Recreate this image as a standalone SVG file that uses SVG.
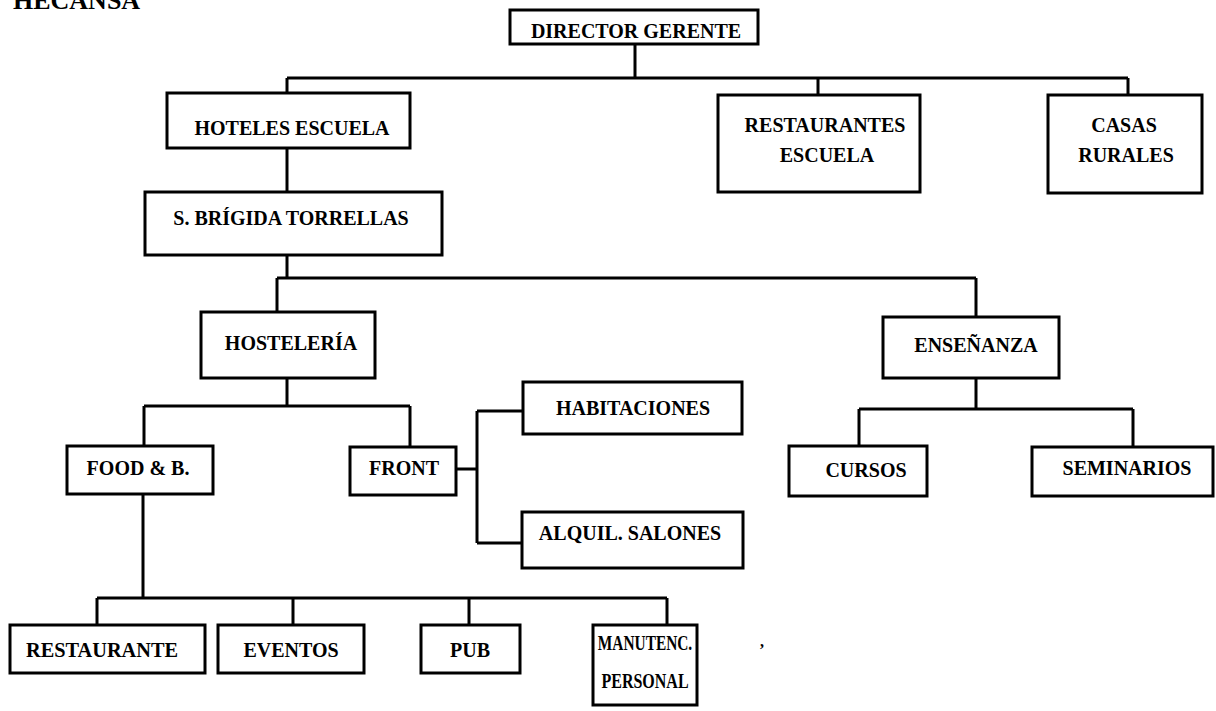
<svg xmlns="http://www.w3.org/2000/svg" width="1216" height="711" viewBox="0 0 1216 711">
<style>
.box{fill:#fff;stroke:#000;stroke-width:3}
.t{font-family:"Liberation Serif","Times New Roman",serif;font-weight:bold;font-size:20px;fill:#000;text-anchor:middle}
.c{fill:none;stroke:#000;stroke-width:3}
</style>
<rect width="1216" height="711" fill="#fff"/>
<text x="13" y="9" style="font-family:'Liberation Serif','Times New Roman',serif;font-weight:bold;font-size:26px">HECANSA</text>
<g id="connectors" class="c">
<path d="M635 44V78M287 78H1128M287 78V93M818 78V95M1128 78V95"/>
<path d="M287 148V192"/>
<path d="M287 255V278M277 278H976M277 278V312M976 278V317"/>
<path d="M287 378V406M144 406H410M144 406V446M410 406V447"/>
<path d="M456 469H477M477 411V543M477 411H523M477 543H522"/>
<path d="M976 378V409M859 409H1133M859 409V446M1133 409V447"/>
<path d="M143 494V598M97 598H667M97 598V625M293 598V625M469 598V625M667 598V625"/>
</g>
<g id="director"><rect class="box" x="510" y="10" width="248" height="34"/><text class="t" x="636" y="38">DIRECTOR GERENTE</text></g>
<g id="hoteles"><rect class="box" x="167" y="93" width="243" height="55"/><text class="t" x="292" y="135">HOTELES ESCUELA</text></g>
<g id="restaurantes"><rect class="box" x="718" y="95" width="202" height="97"/><text class="t" x="825" y="132">RESTAURANTES</text><text class="t" x="827" y="162">ESCUELA</text></g>
<g id="casas"><rect class="box" x="1048" y="95" width="154" height="98"/><text class="t" x="1124" y="132">CASAS</text><text class="t" x="1126" y="162">RURALES</text></g>
<g id="brigida"><rect class="box" x="145" y="192" width="297" height="63"/><text class="t" x="291" y="225">S. BRÍGIDA TORRELLAS</text></g>
<g id="hosteleria"><rect class="box" x="201" y="312" width="174" height="66"/><text class="t" x="291" y="350">HOSTELERÍA</text></g>
<g id="ensenanza"><rect class="box" x="883" y="317" width="176" height="61"/><text class="t" x="976" y="352">ENSEÑANZA</text></g>
<g id="food"><rect class="box" x="67" y="446" width="146" height="48"/><text class="t" x="138" y="475">FOOD &amp; B.</text></g>
<g id="front"><rect class="box" x="350" y="447" width="106" height="48"/><text class="t" x="404" y="475">FRONT</text></g>
<g id="habitaciones"><rect class="box" x="523" y="382" width="219" height="52"/><text class="t" x="633" y="415">HABITACIONES</text></g>
<g id="alquil"><rect class="box" x="522" y="512" width="221" height="56"/><text class="t" x="630" y="540">ALQUIL. SALONES</text></g>
<g id="cursos"><rect class="box" x="789" y="446" width="138" height="50"/><text class="t" x="866" y="477">CURSOS</text></g>
<g id="seminarios"><rect class="box" x="1032" y="447" width="181" height="49"/><text class="t" x="1127" y="475">SEMINARIOS</text></g>
<g id="restaurante"><rect class="box" x="10" y="625" width="195" height="48"/><text class="t" x="102" y="657" textLength="152" lengthAdjust="spacingAndGlyphs">RESTAURANTE</text></g>
<g id="eventos"><rect class="box" x="218" y="625" width="146" height="48"/><text class="t" x="291" y="657">EVENTOS</text></g>
<g id="pub"><rect class="box" x="421" y="625" width="99" height="48"/><text class="t" x="470" y="657">PUB</text></g>
<g id="manutenc"><rect class="box" x="593" y="625" width="104" height="80"/><text class="t" transform="translate(645,650) scale(0.77,1)">MANUTENC.</text><text class="t" transform="translate(645,688) scale(0.8,1)">PERSONAL</text></g>
<text x="760" y="647" style="font-family:'Liberation Serif',serif;font-weight:bold;font-size:16px">,</text>
</svg>
